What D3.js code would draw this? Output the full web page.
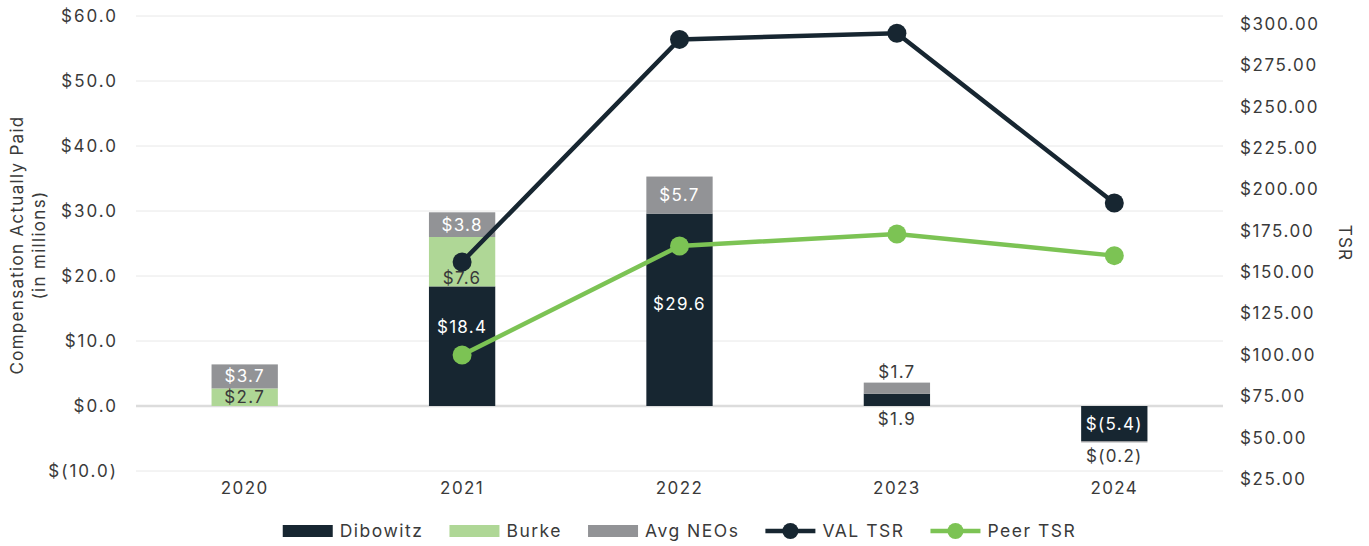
<!DOCTYPE html>
<html>
<head>
<meta charset="utf-8">
<script src="https://cdn.jsdelivr.net/npm/d3@7"></script>
<style>
  body { margin: 0; background: #fff; }
  svg text { font-family: Inter, "Open Sans", sans-serif; fill: #3a3a3a; }
</style>
</head>
<body>
<svg id="chart" width="1369" height="546"></svg>
<script>
// data
var years = ["2020", "2021", "2022", "2023", "2024"];
var dibowitz = [0, 18.4, 29.6, 1.9, -5.4];
var burke = [2.7, 7.6, 0, 0, 0];
var avgNeos = [3.7, 3.8, 5.7, 1.7, -0.2];
var valTsr = [null, 156.2, 290.7, 294.4, 191.8];
var peerTsr = [null, 100.0, 165.8, 173.1, 160.0];
var leftTicks = [-10, 0, 10, 20, 30, 40, 50, 60];
var rightTicks = [25, 50, 75, 100, 125, 150, 175, 200, 225, 250, 275, 300];

var seriesNames = ["Dibowitz", "Burke", "Avg NEOs"];
var colors = { "Dibowitz": "#172631", "Burke": "#afd796", "Avg NEOs": "#929396" };
var valColor = "#172631", peerColor = "#7cc354";

var svg = d3.select("#chart");
var left = 136, right = 1223;

var x = d3.scaleBand().domain(years).range([left, right]).padding(0);
var y = d3.scaleLinear().domain([-10, 60]).range([471, 16]);
var y2 = d3.scaleLinear().domain([25, 300]).range([479, 24]);
var barW = x.bandwidth() * 0.305;

// gridlines
svg.append("g")
    .selectAll("line")
    .data(leftTicks)
    .join("line")
    .attr("x1", left).attr("x2", right)
    .attr("y1", d => y(d)).attr("y2", d => y(d))
    .attr("stroke", d => d == 0 ? "#dcdcdc" : "#e8e8e8")
    .attr("stroke-width", d => d == 0 ? 2.5 : 1);

// left axis
var yAxis = svg.append("g")
    .attr("transform", "translate(" + left + ",0)")
    .call(d3.axisLeft(y).tickValues(leftTicks).tickSize(0).tickPadding(18)
        .tickFormat(d => d < 0 ? "$(" + Math.abs(d).toFixed(1) + ")" : "$" + d.toFixed(1)));
yAxis.select(".domain").remove();
yAxis.selectAll("text").style("font-size", "17px").style("letter-spacing", "2px").attr("fill", "#3a3a3a");

// right axis
var y2Axis = svg.append("g")
    .attr("transform", "translate(" + right + ",0)")
    .call(d3.axisRight(y2).tickValues(rightTicks).tickSize(0).tickPadding(17)
        .tickFormat(d => "$" + d.toFixed(2)));
y2Axis.select(".domain").remove();
y2Axis.selectAll("text").style("font-size", "17px").style("letter-spacing", "1.6px").attr("fill", "#3a3a3a");

// x axis labels
var xAxis = svg.append("g")
    .attr("transform", "translate(0,471)")
    .call(d3.axisBottom(x).tickSize(0).tickPadding(11));
xAxis.select(".domain").remove();
xAxis.selectAll("text").style("font-size", "17px").style("letter-spacing", "1.4px").attr("fill", "#3a3a3a");

// axis titles
svg.append("text")
    .attr("transform", "translate(23,245) rotate(-90)")
    .attr("text-anchor", "middle")
    .style("font-size", "17px").style("letter-spacing", "1.3px")
    .text("Compensation Actually Paid");
svg.append("text")
    .attr("transform", "translate(45,245) rotate(-90)")
    .attr("text-anchor", "middle")
    .style("font-size", "17px").style("letter-spacing", "1.3px")
    .text("(in millions)");
svg.append("text")
    .attr("transform", "translate(1339,243) rotate(90)")
    .attr("text-anchor", "middle")
    .style("font-size", "17px").style("letter-spacing", "1.3px")
    .text("TSR");

// stacked bars
var rows = years.map((yr, i) => ({ year: yr, "Dibowitz": dibowitz[i], "Burke": burke[i], "Avg NEOs": avgNeos[i] }));
var stack = d3.stack().keys(seriesNames).offset(d3.stackOffsetDiverging);
var stacked = stack(rows);

var bars = svg.append("g");
stacked.forEach(function (s) {
    bars.selectAll(null)
        .data(s.filter(d => d.data[s.key] != 0))
        .join("rect")
        .attr("x", d => x(d.data.year) + x.bandwidth() / 2 - barW / 2)
        .attr("width", barW)
        .attr("y", d => y(Math.max(d[0], d[1])))
        .attr("height", d => Math.abs(y(d[0]) - y(d[1])))
        .attr("fill", colors[s.key]);
});

// data labels
var fmt = v => v < 0 ? "$(" + Math.abs(v).toFixed(1) + ")" : "$" + v.toFixed(1);
// manual nudges so labels clear the line markers
var nudge = { "Burke-2021": 16, "Dibowitz-2021": -19, "Dibowitz-2022": -6 };
var labels = svg.append("g");
stacked.forEach(function (s, si) {
    s.forEach(function (d) {
        var v = d.data[s.key];
        if (v == 0) return;
        var yr = d.data.year;
        var cy, col;
        if (Math.abs(v) < 2) {
            col = "#3a3a3a";
            if (si == 0 && v > 0) cy = y(0) + 13;
            else {
                var idx = years.indexOf(yr);
                var top = Math.max(0, d3.max(stacked, ss => ss[idx][1]));
                var bot = Math.min(0, d3.min(stacked, ss => ss[idx][0]));
                cy = v > 0 ? y(top) - 11 : y(bot) + 14;
            }
        } else {
            cy = (y(d[0]) + y(d[1])) / 2 + (nudge[s.key + "-" + yr] || 0);
            col = s.key == "Burke" ? "#3a3a3a" : "#ffffff";
        }
        labels.append("text")
            .attr("x", x(yr) + x.bandwidth() / 2)
            .attr("y", cy)
            .attr("dy", "0.35em")
            .attr("text-anchor", "middle")
            .style("font-size", "17px").style("letter-spacing", "1.3px")
            .style("fill", col)
            .text(fmt(v));
    });
});

// TSR lines
function drawLine(vals, color) {
    var pts = years.map((yr, i) => ({ year: yr, v: vals[i] })).filter(d => d.v != null);
    var line = d3.line().x(d => x(d.year) + x.bandwidth() / 2).y(d => y2(d.v));
    svg.append("path")
        .datum(pts)
        .attr("d", line)
        .attr("fill", "none")
        .attr("stroke", color)
        .attr("stroke-width", 4.5);
    svg.append("g").selectAll("circle")
        .data(pts)
        .join("circle")
        .attr("cx", d => x(d.year) + x.bandwidth() / 2)
        .attr("cy", d => y2(d.v))
        .attr("r", 9.5)
        .attr("fill", color);
}
drawLine(valTsr, valColor);
drawLine(peerTsr, peerColor);

// legend
var legendItems = [
    { name: "Dibowitz", type: "rect", color: colors["Dibowitz"] },
    { name: "Burke", type: "rect", color: colors["Burke"] },
    { name: "Avg NEOs", type: "rect", color: colors["Avg NEOs"] },
    { name: "VAL TSR", type: "line", color: valColor },
    { name: "Peer TSR", type: "line", color: peerColor }
];
var legend = svg.append("g");
var lx = 0, ly = 531;
legendItems.forEach(function (it) {
    var g = legend.append("g").attr("transform", "translate(" + lx + ",0)");
    if (it.type == "rect") {
        g.append("rect").attr("x", 0).attr("y", ly - 6).attr("width", 50).attr("height", 12).attr("fill", it.color);
    } else {
        g.append("line").attr("x1", 0).attr("x2", 50).attr("y1", ly).attr("y2", ly)
            .attr("stroke", it.color).attr("stroke-width", 4.5);
        g.append("circle").attr("cx", 25).attr("cy", ly).attr("r", 8).attr("fill", it.color);
    }
    var t = g.append("text").attr("x", 57).attr("y", ly).attr("dy", "0.35em")
        .style("font-size", "17.5px").style("letter-spacing", "1.5px")
        .text(it.name);
    lx += 57 + t.node().getComputedTextLength() + 26;
});
lx -= 26;
legend.attr("transform", "translate(" + ((left + right) / 2 - lx / 2) + ",0)");
</script>
</body>
</html>
